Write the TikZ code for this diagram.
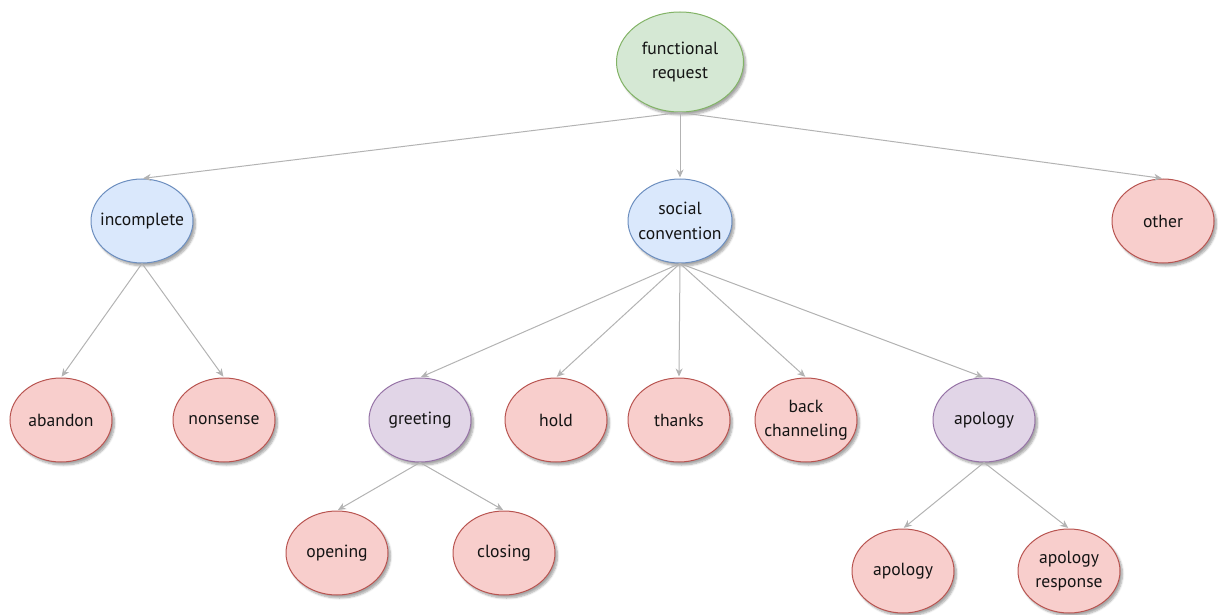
\documentclass[tikz,border=0pt]{standalone}
\usepackage{fontspec}
\setmainfont{PT Sans}
\usetikzlibrary{arrows.meta,shadows.blur,shapes.geometric}
\definecolor{gfill}{HTML}{D5E8D4}\definecolor{gline}{HTML}{82B366}
\definecolor{bfill}{HTML}{DAE8FC}\definecolor{bline}{HTML}{6C8EBF}
\definecolor{rfill}{HTML}{F8CECC}\definecolor{rline}{HTML}{B85450}
\definecolor{pfill}{HTML}{E1D5E7}\definecolor{pline}{HTML}{9673A6}
\definecolor{edgec}{HTML}{B3B3B3}
\tikzset{
  base/.style={ellipse, minimum width=102pt, minimum height=84pt, inner xsep=-20pt, inner ysep=0pt, line width=1pt,
    align=center, font=\fontsize{17.6}{24.5}\selectfont, text=black!92,
    blur shadow={shadow xshift=2.5pt, shadow yshift=-3pt, shadow opacity=35, shadow blur steps=6}},
  gnode/.style={base, fill=gfill, draw=gline, minimum width=127pt, minimum height=100pt},
  bnode/.style={base, fill=bfill, draw=bline},
  rnode/.style={base, fill=rfill, draw=rline},
  pnode/.style={base, fill=pfill, draw=pline},
  conn/.style={draw=edgec, line width=1pt, -{Stealth[length=8pt,width=7pt,inset=2.5pt]}, shorten >=1pt},
}
\begin{document}
\begin{tikzpicture}[x=1pt,y=-1pt]
\useasboundingbox (0,0) rectangle (1218,615);
\node[gnode] (fr) at (680,62) {functional\\request};
\node[bnode] (inc) at (142,221) {incomplete};
\node[bnode, minimum width=104pt] (soc) at (680,221) {social\\convention};
\node[rnode] (oth) at (1163,221) {other};
\node[rnode] (aba) at (61,420) {abandon};
\node[rnode] (non) at (224,420) {nonsense};
\node[pnode] (gre) at (420,420) {greeting};
\node[rnode] (hol) at (556,420) {hold};
\node[rnode] (tha) at (679,420) {thanks};
\node[rnode] (bac) at (806,420) {back\\channeling};
\node[pnode] (apo) at (984,420) {apology};
\node[rnode] (ope) at (337,553) {opening};
\node[rnode] (clo) at (504,553) {closing};
\node[rnode] (apa) at (903,571) {apology};
\node[rnode] (apr) at (1069,571) {apology\\response};
\foreach \p/\c in {fr/inc,fr/soc,fr/oth,inc/aba,inc/non,soc/gre,soc/hol,soc/tha,soc/bac,soc/apo,gre/ope,gre/clo,apo/apa,apo/apr}
  \draw[conn] (\p.south) -- (\c.north);
\end{tikzpicture}
\end{document}
